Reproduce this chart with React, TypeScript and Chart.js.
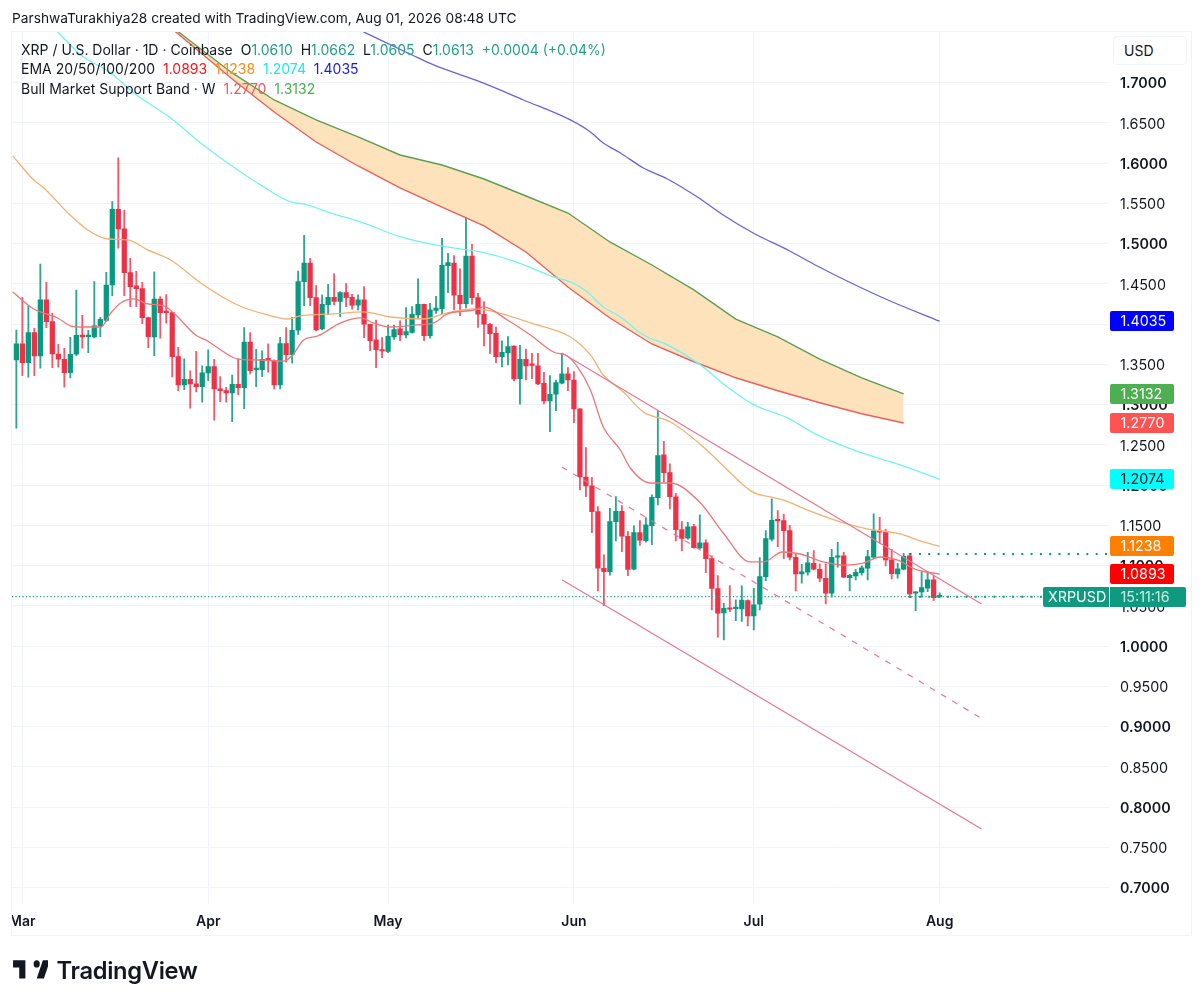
import React, { useEffect, useRef } from "react";
import { Chart, registerables } from "chart.js";

Chart.register(...registerables);

const firstIndex = -1;
const opens = [
  1.3554,1.3753,1.3521,1.3893,1.3603,1.4299,1.4030,1.3628,1.3562,1.3396,
  1.3624,1.3864,1.3844,1.3839,1.3976,1.4046,1.4485,1.5425,1.5181,1.4638,
  1.4473,1.4440,1.4080,1.3839,1.4311,1.4150,1.4142,1.3595,1.3243,1.3314,
  1.3256,1.3223,1.3392,1.3471,1.3194,1.3173,1.3144,1.3252,1.3210,1.3777,
  1.3434,1.3434,1.3566,1.3546,1.3243,1.3757,1.3620,1.3922,1.4526,1.4758,
  1.4328,1.3939,1.4241,1.4332,1.4282,1.4390,1.4332,1.4233,1.4299,1.3997,
  1.3802,1.3682,1.3661,1.3839,1.3939,1.3864,1.3897,1.4112,1.4245,1.3856,
  1.4170,1.4191,1.4725,1.4758,1.4357,1.4253,1.4845,1.4328,1.4121,1.3997,
  1.3885,1.3595,1.3641,1.3727,1.3322,1.3562,1.3496,1.3479,1.3264,1.3044,
  1.3127,1.3264,1.3380,1.3305,1.2945,1.2100,1.1989,1.1670,1.0966,1.0925,
  1.1546,1.1674,1.1364,1.0954,1.1409,1.1310,1.1496,1.1844,1.2374,1.2154,
  1.1852,1.1446,1.1339,1.1484,1.1219,1.1281,1.1086,1.0714,1.0411,1.0473,
  1.0465,1.0461,1.0565,1.0374,1.0519,1.0862,1.1326,1.1566,1.1558,1.1434,
  1.1103,1.0896,1.0916,1.1028,1.0953,1.0842,1.0655,1.1103,1.1119,1.0850,
  1.0871,1.0912,1.0966,1.1103,1.1430,1.1421,1.1069,1.0896,1.0953,1.1119,
  1.0655,1.0672,1.0717,1.0821,1.0610,
];
const highs = [
  1.3926,1.4332,1.4224,1.3947,1.4746,1.4518,1.4133,1.3748,1.3699,1.3835,
  1.4423,1.4109,1.3922,1.4527,1.4084,1.4643,1.5520,1.6063,1.5413,1.4816,
  1.4655,1.4518,1.4085,1.4647,1.4340,1.4365,1.4145,1.3711,1.3566,1.3417,
  1.3661,1.3479,1.3678,1.3562,1.3347,1.3214,1.3367,1.3566,1.3955,1.3893,
  1.3686,1.3666,1.3753,1.3554,1.3835,1.3955,1.4084,1.4659,1.5102,1.4816,
  1.4477,1.4361,1.4493,1.4626,1.4402,1.4502,1.4369,1.4361,1.4464,1.4000,
  1.4050,1.3831,1.3988,1.3988,1.4038,1.4204,1.4216,1.4560,1.4249,1.4257,
  1.4344,1.5065,1.4878,1.4849,1.4684,1.5491,1.4990,1.4382,1.4278,1.4005,
  1.3963,1.3790,1.3843,1.3730,1.3736,1.3690,1.3636,1.3636,1.3400,1.3359,
  1.3305,1.3636,1.3458,1.3409,1.2949,1.2465,1.2096,1.1732,1.1132,1.1711,
  1.1856,1.1744,1.1421,1.1492,1.1558,1.1595,1.1877,1.2924,1.2543,1.2262,
  1.1898,1.1546,1.1537,1.1513,1.1628,1.1318,1.1119,1.0875,1.0531,1.0751,
  1.0573,1.0747,1.0573,1.0718,1.1098,1.1434,1.1827,1.1682,1.1637,1.1500,
  1.1152,1.1016,1.1165,1.1185,1.1020,1.1020,1.1202,1.1289,1.1165,1.0891,
  1.0953,1.0995,1.1189,1.1641,1.1599,1.1454,1.1202,1.1028,1.1152,1.1152,
  1.0676,1.0920,1.0924,1.0875,1.0662,
];
const lows = [
  1.2705,1.3359,1.3339,1.3359,1.3450,1.3955,1.3459,1.3463,1.3214,1.3330,
  1.3608,1.3699,1.3645,1.3827,1.3844,1.4030,1.4353,1.4941,1.4353,1.4216,
  1.4216,1.4005,1.3707,1.3608,1.3823,1.4009,1.3343,1.3173,1.3185,1.2953,
  1.3156,1.3028,1.3297,1.2804,1.3036,1.3028,1.2788,1.3119,1.2949,1.3380,
  1.3223,1.3347,1.3401,1.3194,1.3194,1.3525,1.3512,1.3872,1.4228,1.4228,
  1.3914,1.3926,1.4117,1.4237,1.4092,1.4216,1.4183,1.4175,1.3831,1.3670,
  1.3458,1.3583,1.3645,1.3810,1.3794,1.3827,1.3885,1.4071,1.3794,1.3823,
  1.4133,1.4125,1.4390,1.4175,1.4104,1.4199,1.4245,1.3959,1.3727,1.3636,
  1.3520,1.3467,1.3491,1.3293,1.3003,1.3305,1.3322,1.3247,1.3007,1.2663,
  1.2924,1.3255,1.3173,1.2775,1.1939,1.1856,1.1409,1.0685,1.0502,1.0879,
  1.1306,1.1173,1.0875,1.0945,1.1248,1.1289,1.1260,1.1753,1.2042,1.1703,
  1.1306,1.1181,1.1326,1.1214,1.1206,1.0912,1.0449,1.0109,1.0076,1.0428,
  1.0316,1.0304,1.0250,1.0200,1.0448,1.0813,1.1305,1.1235,1.1086,1.1069,
  1.0684,1.0780,1.0879,1.0945,1.0800,1.0523,1.0606,1.0978,1.0850,1.0684,
  1.0821,1.0879,1.0821,1.1095,1.1276,1.0995,1.0833,1.0842,1.0945,1.0602,
  1.0440,1.0606,1.0676,1.0564,1.0605,
];
const closes = [
  1.3753,1.3521,1.3893,1.3603,1.4299,1.4030,1.3628,1.3562,1.3396,1.3624,
  1.3860,1.3839,1.3852,1.3976,1.4059,1.4485,1.5425,1.5181,1.4638,1.4465,
  1.4440,1.4080,1.3844,1.4311,1.4142,1.4142,1.3595,1.3243,1.3314,1.3256,
  1.3223,1.3392,1.3471,1.3194,1.3173,1.3144,1.3252,1.3210,1.3777,1.3421,
  1.3442,1.3562,1.3554,1.3243,1.3757,1.3620,1.3922,1.4526,1.4758,1.4328,
  1.3926,1.4245,1.4332,1.4282,1.4390,1.4328,1.4233,1.4299,1.3997,1.3794,
  1.3682,1.3665,1.3848,1.3930,1.3868,1.3905,1.4121,1.4245,1.3856,1.4175,
  1.4199,1.4729,1.4762,1.4357,1.4253,1.4845,1.4328,1.4121,1.3997,1.3881,
  1.3595,1.3649,1.3719,1.3318,1.3562,1.3479,1.3487,1.3256,1.3044,1.3127,
  1.3272,1.3380,1.3305,1.2945,1.2100,1.1989,1.1670,1.0966,1.0925,1.1546,
  1.1674,1.1364,1.0950,1.1409,1.1314,1.1504,1.1848,1.2365,1.2154,1.1856,
  1.1446,1.1335,1.1479,1.1223,1.1281,1.1086,1.0714,1.0407,1.0469,1.0457,
  1.0473,1.0569,1.0374,1.0511,1.0862,1.1334,1.1562,1.1554,1.1434,1.1103,
  1.0896,1.0920,1.1032,1.0953,1.0842,1.0655,1.1103,1.1115,1.0854,1.0879,
  1.0916,1.0970,1.1111,1.1430,1.1413,1.1069,1.0900,1.0958,1.1115,1.0647,
  1.0668,1.0726,1.0821,1.0602,1.0613,
];

const ema20X = [-1.6,1.9,5.9,8.1,10.25,13.1,14.75,16.4,18.6,20.9,23.6,25.25,28.9,30.9,33.6,35.9,39.25,43.6,45.1,46.9,49.25,53.1,56.4,58.6,61.4,65.9,68.6,70.9,75.25,76.9,80.9,84.75,88.6,90.9,92.6,94.75,96.9,99.75,101.4,104.75,108.1,113.1,116.9,121.4,123.6,126.75,129.75,133.6,136.9,140.25,143.1,145.9,149.25,153];
const ema20Y = [1.4398,1.4186,1.4075,1.3975,1.3963,1.3963,1.4137,1.4261,1.4311,1.4249,1.4224,1.4137,1.3864,1.3789,1.3652,1.3565,1.3553,1.3540,1.3615,1.3801,1.3851,1.4013,1.4075,1.4013,1.3963,1.3988,1.4013,1.4125,1.4174,1.4212,1.4050,1.3864,1.3652,1.3603,1.3466,1.3180,1.2721,1.2435,1.2211,1.2025,1.2025,1.1777,1.1404,1.1044,1.1044,1.1168,1.1143,1.1044,1.1006,1.1031,1.1106,1.1069,1.0945,1.0893];
const ema50X = [-1.6,1.9,3.6,7.6,10.9,14.25,17.6,20.9,24.75,29.75,35.9,40.9,44.25,46.4,51.9,56.9,61.4,66.9,70.9,75.25,78.1,84.75,91.4,94.75,96.9,100.25,103.6,108.1,113.6,117.6,121.75,124.75,126.9,130.9,136.4,140.9,146.4,149.75,153];
const ema50Y = [1.6088,1.5789,1.5690,1.5379,1.5168,1.5056,1.5044,1.4920,1.4795,1.4510,1.4236,1.4112,1.4062,1.4100,1.4125,1.4150,1.4087,1.4062,1.4137,1.4187,1.4162,1.4013,1.3839,1.3616,1.3367,1.3156,1.2907,1.2783,1.2473,1.2187,1.1914,1.1852,1.1815,1.1690,1.1542,1.1455,1.1393,1.1306,1.1238];
const ema100X = [5.9,9.75,14.75,18.6,24.75,29.75,34.25,40.25,44.75,46.9,51.9,56.4,63.1,69.75,76.4,81.9,88.6,91.4,94.25,96.9,99.75,103.6,107.6,113.1,117.6,121.75,127.6,132.6,138.6,146.4,153];
const ema100Y = [1.7628,1.7342,1.7118,1.6870,1.6559,1.6249,1.6001,1.5703,1.5516,1.5491,1.5367,1.5268,1.5082,1.4970,1.4895,1.4783,1.4585,1.4523,1.4398,1.4212,1.4088,1.3864,1.3740,1.3492,1.3218,1.3007,1.2833,1.2622,1.2436,1.2250,1.2074];
const ema200X = [56.9,65,68.6,76.4,83.6,91.4,94.75,96.9,99.75,103.6,107.6,112.6,116.9,121.9,128,132.6,138.6,144.75,153];
const ema200Y = [1.7628,1.7342,1.7218,1.7007,1.6783,1.6535,1.6386,1.6249,1.6125,1.5938,1.5802,1.5578,1.5355,1.5131,1.4907,1.4721,1.4497,1.4286,1.4035];

const bandX = [21,28,35,42,49,56,63,70,77,84,91,98,105,112,119,126,133,140,147];
const bandUpper = [1.792,1.7516,1.7119,1.6783,1.6535,1.6324,1.6100,1.5975,1.5801,1.5590,1.5379,1.5019,1.4733,1.4423,1.4062,1.3839,1.3565,1.3330,1.3132];
const bandLower = [1.791,1.7479,1.7044,1.6634,1.6261,1.5963,1.5690,1.5453,1.5218,1.4895,1.4460,1.4075,1.3752,1.3531,1.3332,1.3171,1.3022,1.2885,1.2770];

const channelX = [90, 160];
const channelUpper = [1.3641, 1.0523];
const channelMiddle = [1.2224, 0.91];
const channelLower = [1.0823, 0.7727];

const monthIndex = [0, 31, 61, 92, 122, 153];
const monthLabels = ["Mar", "Apr", "May", "Jun", "Jul", "Aug"];
const priceTicks = [0.7,0.75,0.8,0.85,0.9,0.95,1.0,1.05,1.1,1.15,1.2,1.25,1.3,1.35,1.4,1.45,1.5,1.55,1.6,1.65,1.7];
const lastClose = 1.0613;
const priorLevel = 1.1144;
const tagValues = [1.4035, 1.3132, 1.277, 1.2074, 1.1238, 1.0893];
const tagFills = ["#0000ff", "#4caf50", "#ff5252", "#00ffff", "#ff8000", "#ff0000"];
const tagInks = ["#ffffff", "#ffffff", "#ffffff", "#131722", "#ffffff", "#ffffff"];

const UP = "#089981";
const DOWN = "#ee3147";
const UI_FONT = "Inter, 'Liberation Sans', sans-serif";

const zip = (xs: number[], ys: number[]) => xs.map((x, i) => ({ x, y: ys[i] }));
const candleX = opens.map((_, i) => firstIndex + i);
const isUp = opens.map((o, i) => closes[i] >= o);

const frameAndTags = {
  id: "frameAndTags",
  afterDraw(chart: any) {
    const { ctx, scales } = chart;
    const y = scales.y;
    ctx.save();
    ctx.fillStyle = "#ffffff";
    ctx.fillRect(0, 905, 11, 40);
    ctx.strokeStyle = "#f0f3fa";
    ctx.lineWidth = 1;
    ctx.strokeRect(11.5, 31.5, 1180, 904);
    ctx.font = `14.3px ${UI_FONT}`;
    ctx.textBaseline = "middle";
    ctx.textAlign = "left";
    tagValues.forEach((v, i) => {
      const py = Math.round(y.getPixelForValue(v));
      ctx.fillStyle = tagFills[i];
      ctx.beginPath();
      ctx.roundRect(1110, py - 10, 64, 20, 2);
      ctx.fill();
      ctx.fillStyle = tagInks[i];
      ctx.fillText(v.toFixed(4), 1120.5, py + 1);
    });
    const py = Math.round(y.getPixelForValue(lastClose));
    ctx.fillStyle = "#0f9a80";
    ctx.beginPath();
    ctx.roundRect(1043, py - 10, 66, 20, [2, 0, 0, 2]);
    ctx.fill();
    ctx.beginPath();
    ctx.roundRect(1110, py - 10, 76, 20, [0, 2, 2, 0]);
    ctx.fill();
    ctx.fillStyle = "#ffffff";
    ctx.fillText("XRPUSD", 1048, py + 1);
    ctx.fillStyle = "#c9ece4";
    ctx.fillText("15:11:16", 1120.5, py + 1);
    ctx.restore();
  },
};

export default function App() {
  const ref = useRef<HTMLCanvasElement>(null);
  useEffect(() => {
    const lineDs = (data: any[], color: string, extra: any = {}) => ({
      type: "line",
      data,
      borderColor: color,
      borderWidth: 1.3,
      pointRadius: 0,
      fill: false,
      order: 2,
      ...extra,
    });
    const ema = { cubicInterpolationMode: "monotone" };
    const datasets: any[] = [
      {
        type: "bar",
        data: candleX.map((x, i) => ({ x, y: [lows[i], highs[i]] })),
        backgroundColor: isUp.map((u) => (u ? "#2da591" : "#ef5a6c")),
        barThickness: 1.2,
        grouped: false,
        minBarLength: 1,
        order: 11,
      },
      {
        type: "bar",
        data: candleX.map((x, i) => ({ x, y: [opens[i], closes[i]] })),
        backgroundColor: isUp.map((u) => (u ? UP : DOWN)),
        barThickness: 4.6,
        grouped: false,
        minBarLength: 1.5,
        order: 10,
      },
      lineDs(zip(bandX, bandLower), "#ef5f5a", { borderWidth: 1.4, order: 4 }),
      lineDs(zip(bandX, bandUpper), "#5c9f50", {
        borderWidth: 1.4,
        order: 5,
        fill: { target: 2 },
        backgroundColor: "#fde2bb",
      }),
      lineDs(zip(ema20X, ema20Y), "#ef7676", ema),
      lineDs(zip(ema50X, ema50Y), "#f6b072", ema),
      lineDs(zip(ema100X, ema100Y), "#73f2f4", ema),
      lineDs(zip(ema200X, ema200Y), "#6a62e2", ema),
      lineDs(zip(channelX, channelUpper), "#ea7590", { borderWidth: 1.2, order: 1 }),
      lineDs(zip(channelX, channelMiddle), "#ea7590", { borderWidth: 1.2, borderDash: [6, 7], order: 1 }),
      lineDs(zip(channelX, channelLower), "#ea7590", { borderWidth: 1.2, order: 1 }),
      lineDs(zip([-1.75, 181.25], [lastClose, lastClose]), "#2da591", { borderWidth: 1.3, borderDash: [1.3, 2.2], order: 3 }),
      lineDs(zip([148, 181.25], [lastClose, lastClose]), "#089981", { borderWidth: 2, borderDash: [2, 7.3], order: 3 }),
      lineDs(zip([148, 181.25], [priorLevel, priorLevel]), "#089981", { borderWidth: 2, borderDash: [2, 7.3], order: 3 }),
    ];
    const chart = new Chart(ref.current as HTMLCanvasElement, {
      type: "bar",
      data: { datasets },
      plugins: [frameAndTags],
      options: {
        responsive: false,
        animation: false,
        events: [],
        layout: { padding: { left: 11, top: 31, right: 11, bottom: 70 } },
        plugins: { legend: { display: false }, tooltip: { enabled: false }, title: { display: false } },
        scales: {
          x: {
            type: "linear",
            min: -1.75,
            max: 181.25,
            offset: false,
            grid: { offset: false, color: "#f0f3fa", drawTicks: false },
            border: { display: false },
            afterBuildTicks: (s: any) => {
              s.ticks = monthIndex.map((value) => ({ value }));
            },
            afterFit: (s: any) => {
              s.height = 31;
            },
            ticks: {
              autoSkip: false,
              maxRotation: 0,
              padding: 9,
              color: "#131722",
              font: { family: UI_FONT, size: 14, weight: "600" },
              callback: (v: any) => monthLabels[monthIndex.indexOf(Number(v))] ?? "",
            },
          },
          y: {
            type: "linear",
            position: "right",
            min: 0.67951,
            max: 1.76399,
            grid: { color: "#f0f3fa", drawTicks: false },
            border: { display: false },
            afterBuildTicks: (s: any) => {
              s.ticks = priceTicks.map((value) => ({ value }));
            },
            afterFit: (s: any) => {
              s.width = 84;
            },
            ticks: {
              autoSkip: false,
              align: "center",
              crossAlign: "near",
              padding: 11,
              labelOffset: 1.5,
              color: "#131722",
              font: (c: any) => ({
                family: UI_FONT,
                size: 14.3,
                weight: c.tick && Math.round(c.tick.value * 100) % 10 === 0 ? "600" : "400",
              }),
              callback: (v: any) => Number(v).toFixed(4),
            },
          },
        },
      } as any,
    } as any);
    return () => chart.destroy();
  }, []);

  const legendStyle: React.CSSProperties = {
    position: "absolute",
    left: 21,
    font: `14px ${UI_FONT}`,
    color: "#131722",
    whiteSpace: "pre",
    lineHeight: "20px",
  };
  const T = "#22a08a";
  return (
    <div style={{ position: "absolute", left: 0, top: 0, width: 1204, height: 1005, background: "#fff", overflow: "hidden" }}>
      <canvas ref={ref} width={1204} height={1005} style={{ display: "block" }} />
      <div style={{ ...legendStyle, left: 12, top: 8, fontSize: 13.75 }}>ParshwaTurakhiya28 created with TradingView.com, Aug 01, 2026 08:48 UTC</div>
      <div style={{ ...legendStyle, top: 40 }}>
        {"XRP / U.S. Dollar · 1D · Coinbase  O"}
        <span style={{ color: T }}>1.0610</span>{"  H"}
        <span style={{ color: T }}>1.0662</span>{"  L"}
        <span style={{ color: T }}>1.0605</span>{"  C"}
        <span style={{ color: T }}>1.0613</span>{"  "}
        <span style={{ color: T }}>+0.0004 (+0.04%)</span>
      </div>
      <div style={{ ...legendStyle, top: 59 }}>
        {"EMA 20/50/100/200  "}
        <span style={{ color: "#f7141e" }}>1.0893</span>{"  "}
        <span style={{ color: "#ff8c10" }}>1.1238</span>{"  "}
        <span style={{ color: "#1ee6ee" }}>1.2074</span>{"  "}
        <span style={{ color: "#1a1ad8" }}>1.4035</span>
      </div>
      <div style={{ ...legendStyle, top: 79 }}>
        {"Bull Market Support Band · W  "}
        <span style={{ color: "#f05a5a" }}>1.2770</span>{"  "}
        <span style={{ color: "#4caf50" }}>1.3132</span>
      </div>
      <div style={{ position: "absolute", left: 1113, top: 36, width: 74, height: 29, boxSizing: "border-box", border: "1px solid #f0f3fa", borderRadius: 4, background: "#fff", font: `14px ${UI_FONT}`, color: "#131722", lineHeight: "28px", paddingLeft: 10 }}>USD</div>
      <svg style={{ position: "absolute", left: 11, top: 953 }} width="37" height="34" viewBox="0 0 36 28" preserveAspectRatio="none">
        <path fill="#131722" d="M14 6H2v6h6v9h6V6Zm18 15h-7l6-15h7l-6 15Zm-7-9a3 3 0 1 0 0-6 3 3 0 0 0 0 6Z" />
      </svg>
      <div style={{ position: "absolute", left: 56.5, top: 955, font: `600 23.7px ${UI_FONT}`, color: "#131722", lineHeight: "32px", letterSpacing: "-0.3px" }}>TradingView</div>
    </div>
  );
}
